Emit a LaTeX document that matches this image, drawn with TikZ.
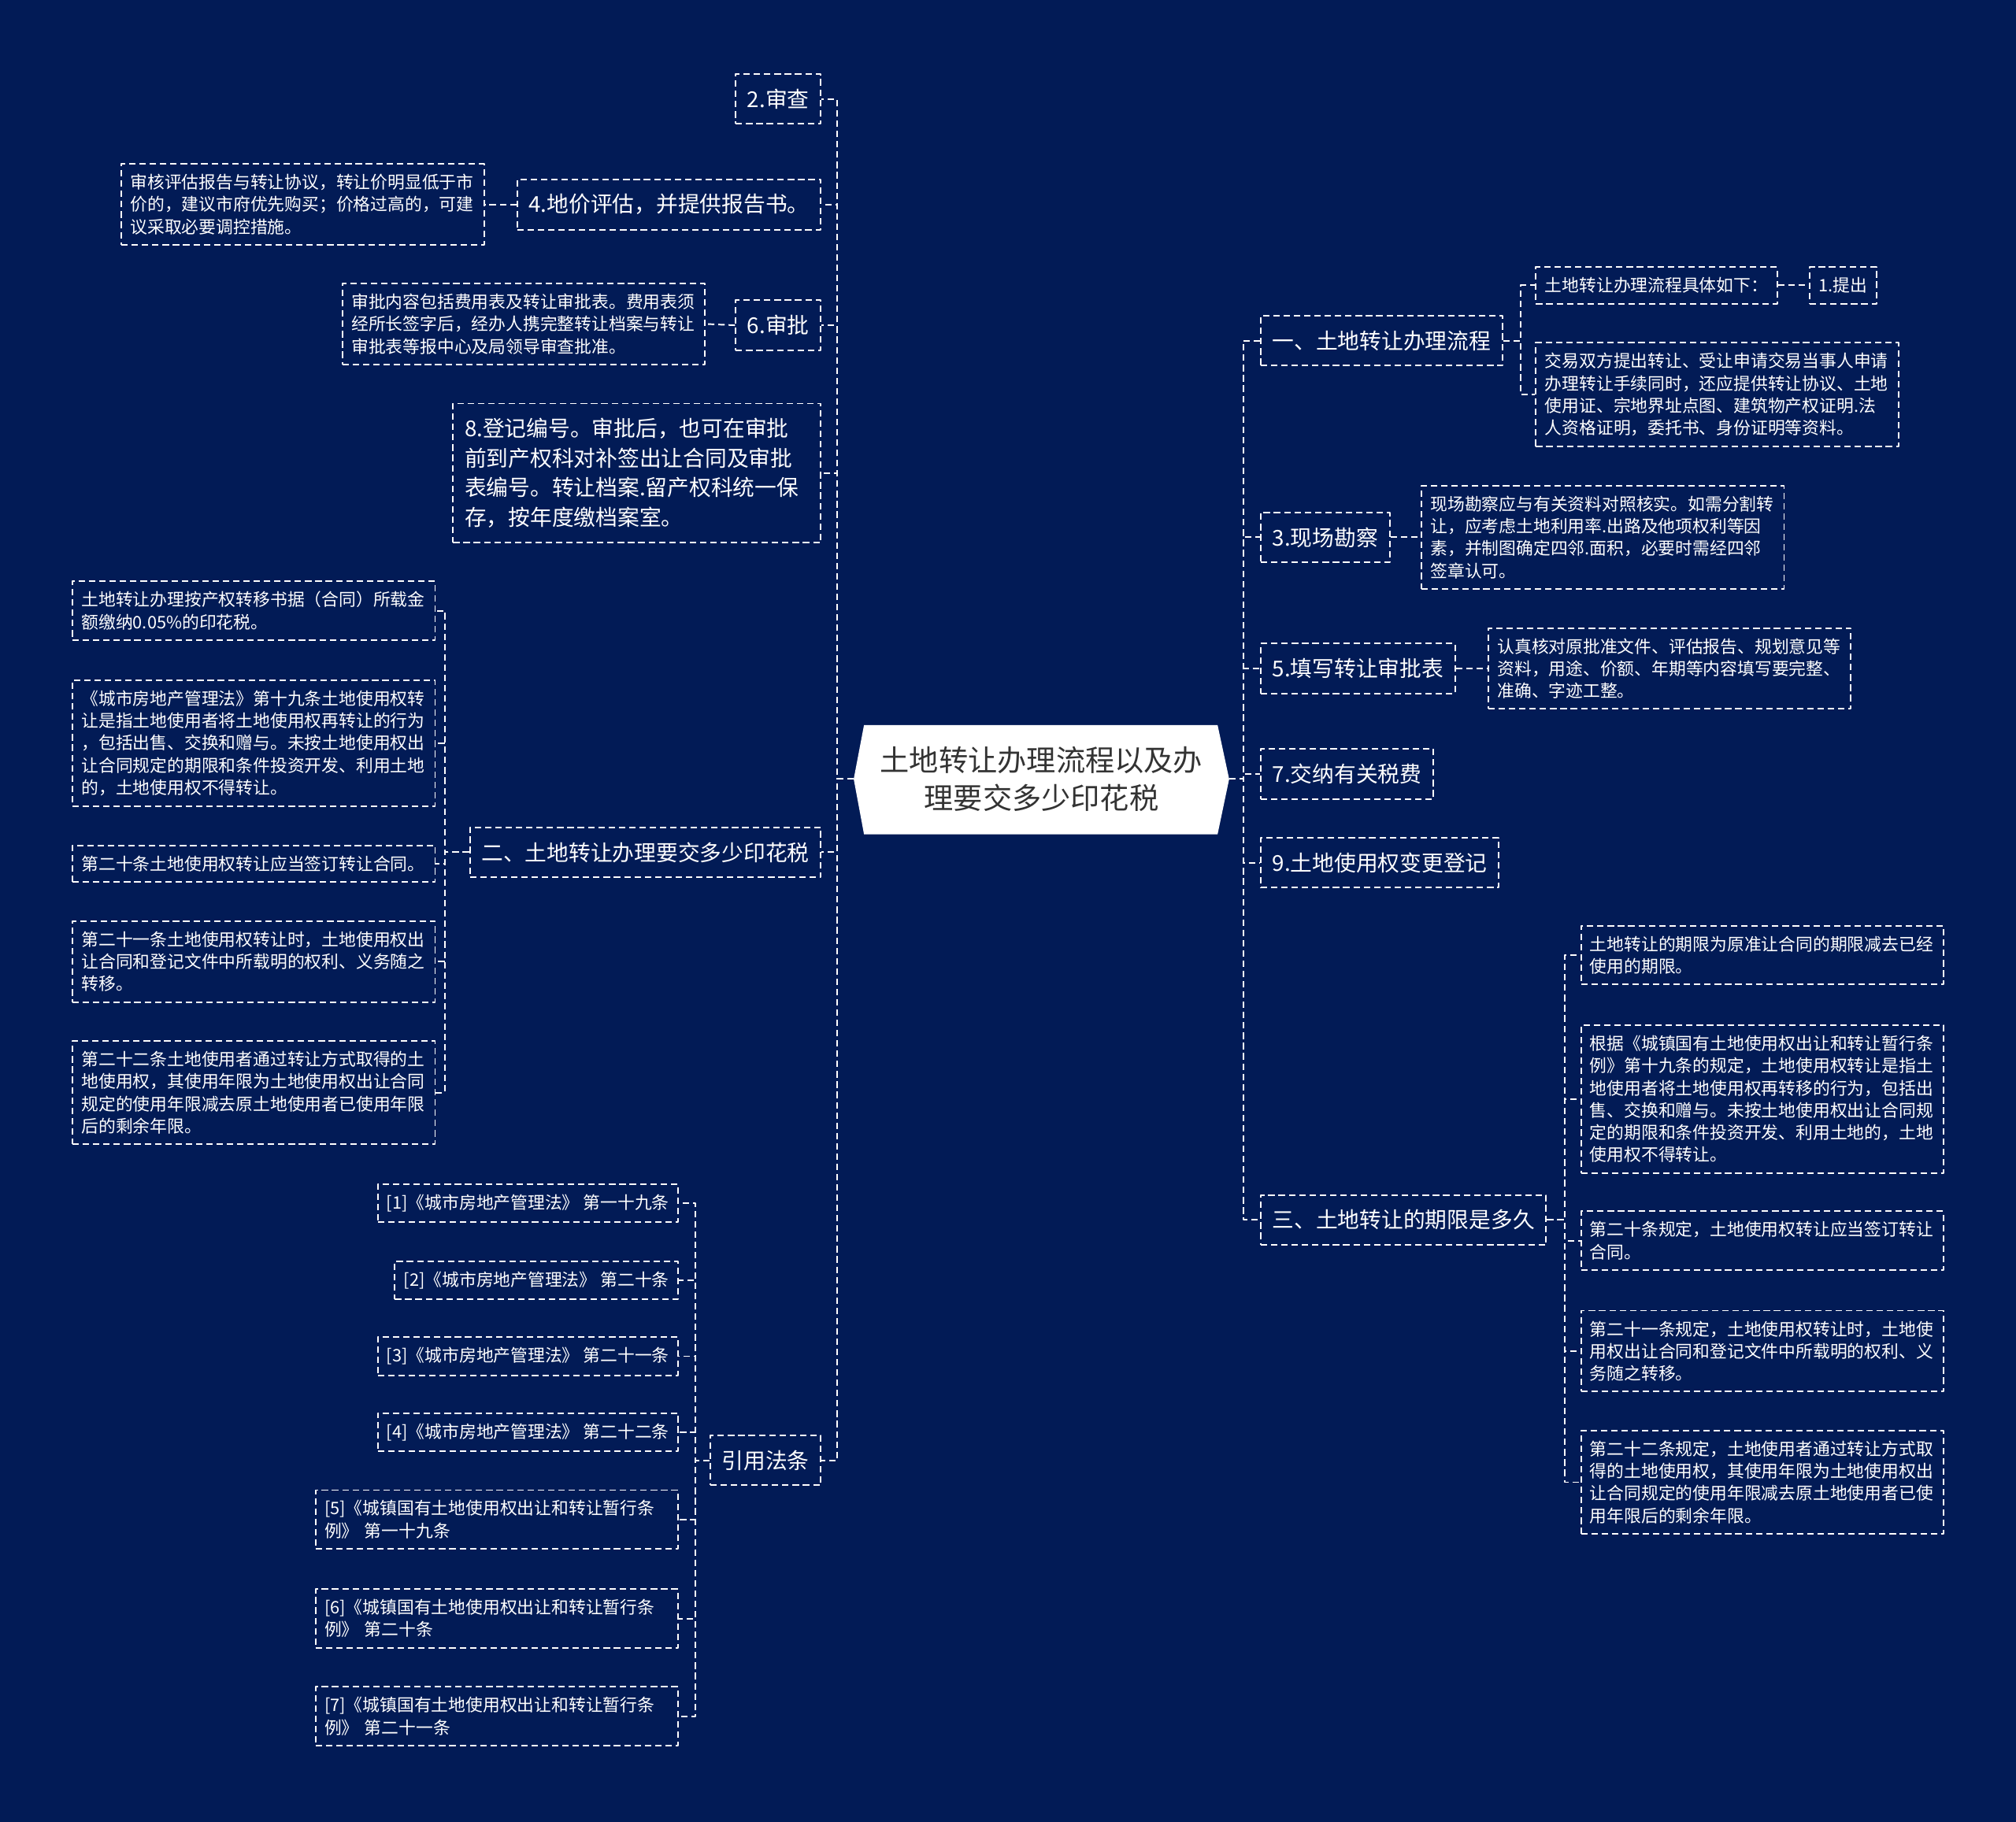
\documentclass[tikz,border=0pt]{standalone}
\usepackage{fontspec}
\setmainfont{Noto Sans CJK SC}
\definecolor{navy}{HTML}{021B56}
\definecolor{ink}{HTML}{333333}
\tikzset{
  link/.style={draw=white, line width=1.2pt, dash pattern=on 5pt off 3pt},
  box/.style={draw=white, line width=1.2pt, dash pattern=on 5pt off 3pt, text=white,
    font=\fontsize{17}{23}\selectfont, inner xsep=9pt, inner ysep=11.5pt, align=left},
  leaf/.style={box, font=\fontsize{13.35}{17.3}\selectfont, inner xsep=7pt, inner ysep=8pt},
  wide/.style={leaf, text width=268pt},
}
\begin{document}
\begin{tikzpicture}[x=1pt, y=-1pt, line join=round]
\useasboundingbox (0,0) rectangle (1568,1417);
\fill[navy] (0,0) rectangle (1568,1417);
% centre
\fill[white] (664,606) -- (672,564) -- (947,564) -- (956,606) -- (947,649) -- (672,649) -- cycle;
\node[font=\fontsize{22.8}{30}\selectfont, text=ink, align=center, minimum width=292pt, minimum height=85pt, inner sep=0pt] (root) at (810,606) {土地转让办理流程以及办\\理要交多少印花税};
% left branches
\node[box, anchor=east] (n2) at (639,77) {2.审查};
\node[box, anchor=east] (n4) at (639,159) {4.地价评估，并提供报告书。};
\node[wide, anchor=east] (n4a) at (377,159) {审核评估报告与转让协议，转让价明显低于市\\价的，建议市府优先购买；价格过高的，可建\\议采取必要调控措施。};
\node[box, anchor=east] (n6) at (639,253) {6.审批};
\node[wide, anchor=east] (n6a) at (549,252) {审批内容包括费用表及转让审批表。费用表须\\经所长签字后，经办人携完整转让档案与转让\\审批表等报中心及局领导审查批准。};
\node[box, anchor=east, text width=268pt] (n8) at (639,368) {8.登记编号。审批后，也可在审批\\前到产权科对补签出让合同及审批\\表编号。转让档案.留产权科统一保\\存，按年度缴档案室。};
\node[box, anchor=east] (b) at (639,663) {二、土地转让办理要交多少印花税};
\node[wide, anchor=east] (b1) at (339,475) {土地转让办理按产权转移书据（合同）所载金\\额缴纳0.05\%的印花税。};
\node[wide, anchor=east] (b2) at (339,578) {《城市房地产管理法》第十九条土地使用权转\\让是指土地使用者将土地使用权再转让的行为\\，包括出售、交换和赠与。未按土地使用权出\\让合同规定的期限和条件投资开发、利用土地\\的，土地使用权不得转让。};
\node[wide, anchor=east] (b3) at (339,672) {第二十条土地使用权转让应当签订转让合同。};
\node[wide, anchor=east] (b4) at (339,748) {第二十一条土地使用权转让时，土地使用权出\\让合同和登记文件中所载明的权利、义务随之\\转移。};
\node[wide, anchor=east] (b5) at (339,850) {第二十二条土地使用者通过转让方式取得的土\\地使用权，其使用年限为土地使用权出让合同\\规定的使用年限减去原土地使用者已使用年限\\后的剩余年限。};
\node[box, anchor=east] (c) at (639,1136) {引用法条};
\node[leaf, anchor=east] (c1) at (528,936) {[1]《城市房地产管理法》 第一十九条};
\node[leaf, anchor=east] (c2) at (528,996) {[2]《城市房地产管理法》 第二十条};
\node[leaf, anchor=east] (c3) at (528,1055) {[3]《城市房地产管理法》 第二十一条};
\node[leaf, anchor=east] (c4) at (528,1114) {[4]《城市房地产管理法》 第二十二条};
\node[wide, anchor=east] (c5) at (528,1182) {[5]《城镇国有土地使用权出让和转让暂行条\\例》 第一十九条};
\node[wide, anchor=east] (c6) at (528,1259) {[6]《城镇国有土地使用权出让和转让暂行条\\例》 第二十条};
\node[wide, anchor=east] (c7) at (528,1335) {[7]《城镇国有土地使用权出让和转让暂行条\\例》 第二十一条};
% right branches
\node[box, anchor=west] (r1) at (980,265) {一、土地转让办理流程};
\node[leaf, anchor=west] (r1a) at (1194,222) {土地转让办理流程具体如下：};
\node[leaf, anchor=west] (r1aa) at (1407,222) {1.提出};
\node[wide, anchor=west] (r1b) at (1194,307) {交易双方提出转让、受让申请交易当事人申请\\办理转让手续同时，还应提供转让协议、土地\\使用证、宗地界址点图、建筑物产权证明.法\\人资格证明，委托书、身份证明等资料。};
\node[box, anchor=west] (r3) at (980,418) {3.现场勘察};
\node[wide, anchor=west] (r3a) at (1105,418) {现场勘察应与有关资料对照核实。如需分割转\\让，应考虑土地利用率.出路及他项权利等因\\素，并制图确定四邻.面积，必要时需经四邻\\签章认可。};
\node[box, anchor=west] (r5) at (980,520) {5.填写转让审批表};
\node[wide, anchor=west] (r5a) at (1157,520) {认真核对原批准文件、评估报告、规划意见等\\资料，用途、价额、年期等内容填写要完整、\\准确、字迹工整。};
\node[box, anchor=west] (r7) at (980,602) {7.交纳有关税费};
\node[box, anchor=west] (r9) at (980,671) {9.土地使用权变更登记};
\node[box, anchor=west] (q) at (980,949) {三、土地转让的期限是多久};
\node[wide, anchor=west] (q1) at (1229,743) {土地转让的期限为原准让合同的期限减去已经\\使用的期限。};
\node[wide, anchor=west] (q2) at (1229,855) {根据《城镇国有土地使用权出让和转让暂行条\\例》第十九条的规定，土地使用权转让是指土\\地使用者将土地使用权再转移的行为，包括出\\售、交换和赠与。未按土地使用权出让合同规\\定的期限和条件投资开发、利用土地的，土地\\使用权不得转让。};
\node[wide, anchor=west] (q3) at (1229,965) {第二十条规定，土地使用权转让应当签订转让\\合同。};
\node[wide, anchor=west] (q4) at (1229,1051) {第二十一条规定，土地使用权转让时，土地使\\用权出让合同和登记文件中所载明的权利、义\\务随之转移。};
\node[wide, anchor=west] (q5) at (1229,1153) {第二十二条规定，土地使用者通过转让方式取\\得的土地使用权，其使用年限为土地使用权出\\让合同规定的使用年限减去原土地使用者已使\\用年限后的剩余年限。};
% connectors
\path (651,0) coordinate (sL) (346,0) coordinate (sB) (541,0) coordinate (sC)
      (967,0) coordinate (sR) (1183,0) coordinate (sD) (1217,0) coordinate (sQ);
\foreach \x in {n2,n4,n6,n8,b,c}
  {\draw[link] (root.west) -- (root.west -| sL) |- (\x.east);}
\foreach \x in {r1,r3,r5,r7,r9,q}
  {\draw[link] (root.east) -- (root.east -| sR) |- (\x.west);}
\foreach \i in {1,...,5}
  {\draw[link] (b.west) -- (b.west -| sB) |- (b\i.east);
   \draw[link] (q.east) -- (q.east -| sQ) |- (q\i.west);}
\foreach \i in {1,...,7}
  {\draw[link] (c.west) -- (c.west -| sC) |- (c\i.east);}
\foreach \x in {r1a,r1b}
  {\draw[link] (r1.east) -- (r1.east -| sD) |- (\x.west);}
\draw[link] (n4.west) -- (n4a.east);
\draw[link] (n6.west) -- (n6a.east);
\draw[link] (r1a.east) -- (r1aa.west);
\draw[link] (r3.east) -- (r3a.west);
\draw[link] (r5.east) -- (r5a.west);
\end{tikzpicture}
\end{document}
